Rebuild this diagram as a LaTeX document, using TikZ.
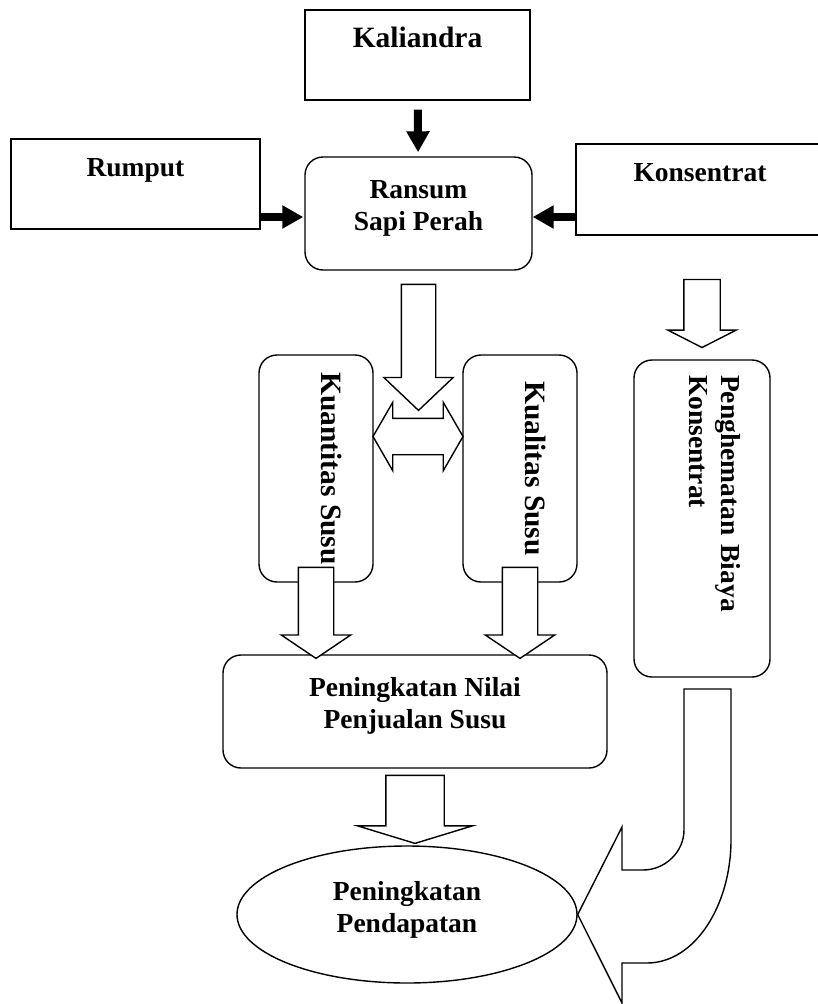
\documentclass[tikz,border=0pt]{standalone}
\usepackage{fontspec}
\setmainfont{Liberation Serif}
\usetikzlibrary{calc}
\usetikzlibrary{arrows.meta}
\usetikzlibrary{shapes.geometric}
\usetikzlibrary{shapes.arrows}

\begin{document}
\begin{tikzpicture}[x=1pt,y=-1pt,line width=1.4pt,
    font=\fontsize{27.5}{32}\selectfont\bfseries,
    bigger/.style={font=\fontsize{29.5}{34}\selectfont\bfseries},
    plainbox/.style={draw,rectangle,inner sep=0pt,align=center,text depth=34pt},
    roundbox/.style={draw,rectangle,rounded corners=18pt,inner sep=0pt,align=center},
    fatarrow/.style={line width=8pt,-{Triangle[length=21pt,width=22pt]}},
    hollow/.style={draw,fill=white,single arrow,single arrow head indent=0pt,inner xsep=0pt,minimum width=0pt,rotate=-90}]
          \useasboundingbox (0,0) rectangle (817,1004);
          \node[plainbox,bigger,minimum width=225pt,minimum height=90pt,text depth=36pt] (kal) at (417.5,55) {Kaliandra};
          \node[plainbox,minimum width=249pt,minimum height=90pt] (rum) at (135.5,184) {Rumput};
          \node[plainbox,minimum width=248pt,minimum height=91pt] (kon) at (700,189.5) {Konsentrat};
          \node[roundbox,minimum width=227pt,minimum height=113pt,text depth=16pt] (ran) at (418.5,213.5) {Ransum\\Sapi Perah};
          \node[roundbox,bigger,rotate=-90,minimum width=227pt,minimum height=114pt,text depth=31pt] (kuan) at (316,468.5) {Kuantitas Susu};
          \node[roundbox,bigger,rotate=-90,minimum width=227pt,minimum height=114pt,text depth=31pt] (kual) at (520,468.5) {Kualitas Susu};
          \node[roundbox,rotate=-90,minimum width=317pt,minimum height=136pt,align=left,text width=287pt,text depth=59pt] (peng) at (702,518.5) {Penghematan Biaya\\Konsentrat};
          \node[roundbox,minimum width=384pt,minimum height=113pt,text depth=18pt] (nil) at (415,711.5) {Peningkatan Nilai\\Penjualan Susu};
          \node[draw,ellipse,inner sep=0pt,align=center,minimum width=340pt,minimum height=137pt,text depth=16pt] (ell) at (407,914.5) {Peningkatan\\Pendapatan};

          \draw[fatarrow,shorten <=9pt,shorten >=4pt] (kal) -- (ran);
          \draw[fatarrow,shorten >=1pt] ([yshift=-33pt]rum.east) -- ([yshift=-3.5pt]ran.west);
          \draw[fatarrow] ([yshift=-27.5pt]kon.west) -- ([yshift=-3.5pt]ran.east);

          \node[draw,fill=white,double arrow,double arrow head indent=0pt,inner xsep=0pt,inner ysep=17.5pt,double arrow head extend=16pt,double arrow tip angle=120,minimum height=90pt,minimum width=0pt] (both) at ($(kuan.north)!.5!(kual.south)+(0,-32)$) {};
          \node[hollow,inner ysep=16.5pt,single arrow head extend=17.5pt,single arrow tip angle=93,minimum height=126pt,anchor=tail] (down1) at ([yshift=-13pt]ran.south) {};
          \node[hollow,inner ysep=17pt,single arrow head extend=17pt,single arrow tip angle=112,minimum height=91pt,anchor=tail] (down2) at ([yshift=16pt]kuan.east) {};
          \node[hollow,inner ysep=17pt,single arrow head extend=17pt,single arrow tip angle=112,minimum height=91pt,anchor=tail] (down3) at ([yshift=16pt]kual.east) {};
          \node[hollow,inner ysep=17.5pt,single arrow head extend=16pt,single arrow tip angle=126,minimum height=68pt,anchor=tip] (down4) at ([yshift=11pt]peng.west) {};
          \node[hollow,inner ysep=28.5pt,single arrow head extend=28pt,single arrow tip angle=146,minimum height=68pt,anchor=tail] (down5) at ([yshift=-6pt]nil.south) {};
          \draw[fill=white] (684,689) -- (684,830) .. controls (684,852) and (665,870) .. (643,870) -- (622,870) -- (622,827) -- (ell.east) -- (622,1003) -- (622,963) -- (647,963) .. controls (695,963) and (731,905) .. (731,840) -- (731,689) -- cycle;
        \end{tikzpicture}
\end{document}
